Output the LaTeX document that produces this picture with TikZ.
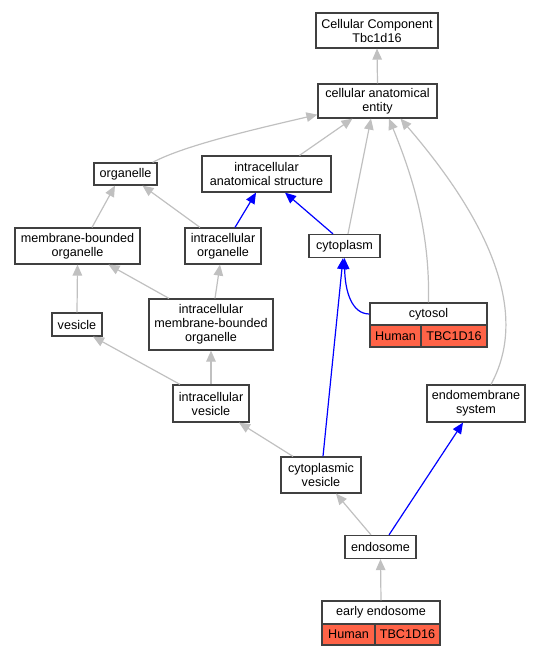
\documentclass[tikz,border=0pt]{standalone}
\usepackage{fontspec}
\setmainfont{Liberation Sans}
\usetikzlibrary{arrows.meta}
\definecolor{boxc}{HTML}{404040}
\definecolor{edgegray}{HTML}{C0C0C0}
\definecolor{human}{HTML}{FF6347}
\begin{document}
\begin{tikzpicture}[x=1pt,y=-1pt,
  box/.style={draw=boxc, line width=1.2pt, fill=white, inner sep=0pt, align=center,
    font=\fontsize{12.6}{14}\selectfont},
  cell/.style={box, fill=human},
  gedge/.style={draw=edgegray, line width=1.2pt, -{Triangle[length=11pt,width=9.5pt,fill=edgegray]}},
  bedge/.style={draw=blue, line width=1.2pt, -{Triangle[length=11pt,width=9.5pt,fill=blue]}}
]
\useasboundingbox (0,0) rectangle (541,656);

% nodes
\node[box, minimum width=122pt, minimum height=35pt] (cc) at (377,30.5) {Cellular Component\\Tbc1d16};
\node[box, minimum width=119pt, minimum height=34pt] (cae) at (377.5,101) {cellular anatomical\\entity};
\node[box, minimum width=63pt, minimum height=22pt] (org) at (125.5,174) {organelle};
\node[box, minimum width=129pt, minimum height=36pt] (ias) at (266.5,174) {intracellular\\anatomical structure};
\node[box, minimum width=125pt, minimum height=36pt] (mbo) at (77.5,246) {membrane-bounded\\organelle};
\node[box, minimum width=76pt, minimum height=36pt] (io) at (223,246) {intracellular\\organelle};
\node[box, minimum width=71pt, minimum height=23pt] (cyto) at (344.5,246) {cytoplasm};
\node[box, minimum width=50pt, minimum height=23pt] (ves) at (77,324.5) {vesicle};
\node[box, minimum width=124pt, minimum height=51pt] (imbo) at (211,324.5) {intracellular\\membrane-bounded\\organelle};
\node[box, minimum width=117pt, minimum height=22pt] (cytosol) at (428.5,314) {cytosol};
\node[cell, minimum width=51pt, minimum height=22pt] (cytosolh) at (395.5,336) {Human};
\node[cell, minimum width=66pt, minimum height=22pt] (cytosolg) at (454,336) {TBC1D16};
\node[box, minimum width=76pt, minimum height=37pt] (iv) at (211,403.5) {intracellular\\vesicle};
\node[box, minimum width=98pt, minimum height=37pt] (ems) at (476,403.5) {endomembrane\\system};
\node[box, minimum width=80pt, minimum height=36pt] (cv) at (321,475) {cytoplasmic\\vesicle};
\node[box, minimum width=71pt, minimum height=23pt] (endo) at (380.5,547) {endosome};
\node[box, minimum width=118pt, minimum height=23pt] (ee) at (381,612.5) {early endosome};
\node[cell, minimum width=53pt, minimum height=21pt] (eeh) at (348.5,634.5) {Human};
\node[cell, minimum width=65pt, minimum height=21pt] (eeg) at (407.5,634.5) {TBC1D16};

% gray edges
\draw[gedge] (cae.north) -- (cc.south);
\draw[gedge] ([xshift=-5pt]org.north east) .. controls (185,145) and (260,128) .. ([yshift=4pt]cae.south west);
\draw[gedge] ([xshift=33pt]ias.north) -- ([xshift=-25pt]cae.south);
\draw[gedge] ([xshift=3.5pt]cyto.north) -- ([xshift=-6.5pt]cae.south);
\draw[gedge] (cytosol.north) .. controls (430,230) and (412,175) .. ([xshift=11.5pt]cae.south);
\draw[gedge] ([xshift=15pt]ems.north) .. controls (518,335) and (518,255) .. ([xshift=23pt]cae.south);
\draw[gedge] ([xshift=14.5pt]mbo.north) -- ([xshift=-10.5pt]org.south);
\draw[gedge] ([xshift=-23pt]io.north) -- ([xshift=17pt]org.south);
\draw[gedge] (ves.north) -- (mbo.south);
\draw[gedge] ([xshift=-42pt]imbo.north) -- ([xshift=31pt]mbo.south);
\draw[gedge] ([xshift=4pt]imbo.north) -- ([xshift=-3pt]io.south);
\draw[gedge] ([xshift=-31pt]iv.north) -- ([xshift=16pt]ves.south);
\draw[gedge] (iv.north) -- (imbo.south);
\draw[gedge] ([xshift=-28pt]cv.north) -- ([xshift=28pt]iv.south);
\draw[gedge] ([xshift=-9.5pt]endo.north) -- ([xshift=15pt]cv.south);
\draw[gedge] (ee.north) -- (endo.south);

% blue edges
\draw[bedge] ([xshift=12pt]io.north) -- ([xshift=-10.5pt]ias.south);
\draw[bedge] ([xshift=-11.5pt]cyto.north) -- ([xshift=18.5pt]ias.south);
\draw[bedge] (cytosol.west) .. controls (352,314) and (345,292) .. (cyto.south);
\draw[bedge] ([xshift=2pt]cv.north) -- ([xshift=-1.5pt]cyto.south);
\draw[bedge] ([xshift=8.5pt]endo.north) -- ([xshift=-13pt]ems.south);
\end{tikzpicture}
\end{document}
